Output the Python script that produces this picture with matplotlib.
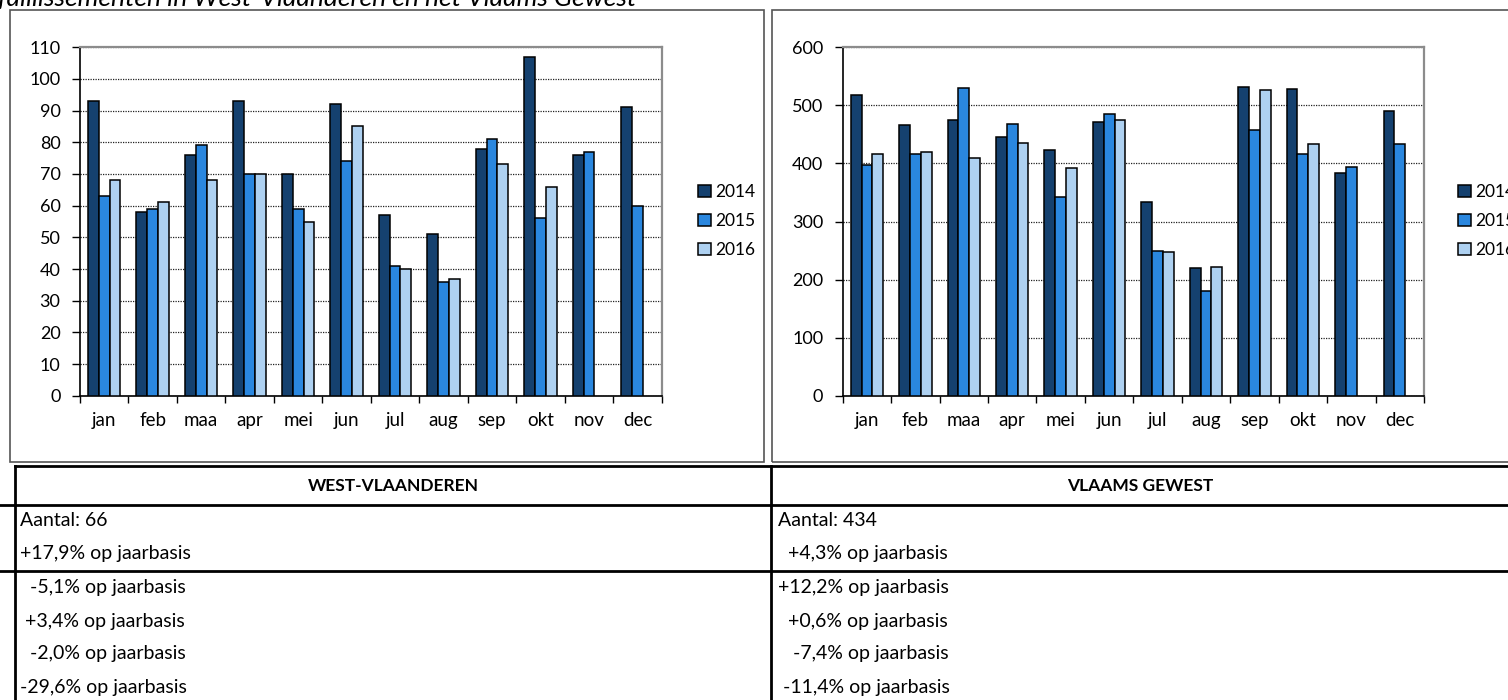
import numpy as np
import matplotlib
matplotlib.use("Agg")
from matplotlib import pyplot as plt
from matplotlib.lines import Line2D
from matplotlib.patches import Rectangle

plt.rcParams['font.family'] = ['Lato', 'DejaVu Sans']

months = ['jan', 'feb', 'maa', 'apr', 'mei', 'jun', 'jul', 'aug', 'sep', 'okt', 'nov', 'dec']
years = ['2014', '2015', '2016']

# West-Vlaanderen
wvl_2014 = [93, 58, 76, 93, 70, 92, 57, 51, 78, 107, 76, 91]
wvl_2015 = [63, 59, 79, 70, 59, 74, 41, 36, 81, 56, 77, 60]
wvl_2016 = [68, 61, 68, 70, 55, 85, 40, 37, 73, 66, np.nan, np.nan]

# Vlaams Gewest
vg_2014 = [518, 466, 475, 445, 423, 471, 334, 220, 531, 528, 384, 490]
vg_2015 = [398, 416, 530, 468, 342, 485, 249, 180, 458, 416, 393, 433]
vg_2016 = [416, 419, 410, 436, 392, 475, 248, 221, 526, 434, np.nan, np.nan]

colors = ['#15416f', '#2a87df', '#aed1f1']

title = 'faillissementen in West-Vlaanderen en het Vlaams Gewest'
table_heads = ['WEST-VLAANDEREN', 'VLAAMS GEWEST']
wvl_rows = ['Aantal: 66', '+17,9% op jaarbasis', '  -5,1% op jaarbasis',
            ' +3,4% op jaarbasis', '  -2,0% op jaarbasis', '-29,6% op jaarbasis']
vg_rows = ['Aantal: 434', '  +4,3% op jaarbasis', '+12,2% op jaarbasis',
           '  +0,6% op jaarbasis', '   -7,4% op jaarbasis', ' -11,4% op jaarbasis']

W, H = 1508, 700
fig = plt.figure(figsize=(W / 100, H / 100), dpi=100)


def fx(x):
    return x / W


def fy(y):
    return 1 - y / H


def hline(x0, x1, y, lw=2.0, color='black'):
    fig.add_artist(Line2D([fx(x0), fx(x1)], [fy(y), fy(y)], color=color, lw=lw))


def vline(x, y0, y1, lw=2.0, color='black'):
    fig.add_artist(Line2D([fx(x), fx(x)], [fy(y0), fy(y1)], color=color, lw=lw))


# title, cut off at the very top like in the source
fig.text(fx(-2), fy(6), title, fontsize=19, style='italic', ha='left', va='baseline')

# chart frames
fig.add_artist(Rectangle((fx(9.5), fy(461.7)), fx(764 - 9.5), (461.7 - 9.5) / H,
                         fill=False, edgecolor='#555555', lw=1.2))
fig.add_artist(Rectangle((fx(771.7), fy(461.7)), fx(760), (461.7 - 9.5) / H,
                         fill=False, edgecolor='#555555', lw=1.2))


def bar_chart(left_px, right_px, series, ymax, step, leg_x):
    ax = fig.add_axes([fx(left_px), fy(395.7), fx(right_px - left_px), (395.7 - 47.3) / H])
    x = np.arange(len(months))
    w = 0.223
    handles = []
    for i, vals in enumerate(series):
        b = ax.bar(x + (i - 1) * w, vals, width=w, color=colors[i], edgecolor='black',
                   linewidth=1.1, zorder=3, label=years[i])
        handles.append(b)
    ax.set_xlim(-0.5, len(months) - 0.5)
    ax.set_ylim(0, ymax)
    ax.set_yticks(np.arange(0, ymax + 1, step))
    ax.yaxis.grid(True, linestyle=(0, (1, 1)), color='#222222', lw=0.9, zorder=0)
    ax.set_xticks(np.arange(len(months) + 1) - 0.5)
    ax.set_xticklabels([])
    ax.set_xticks(x, minor=True)
    ax.set_xticklabels(months, minor=True)
    ax.tick_params(axis='x', which='major', direction='out', length=5, width=1)
    ax.tick_params(axis='x', which='minor', length=0, pad=12, labelsize=13.5)
    ax.tick_params(axis='y', direction='out', length=6, width=1, pad=8, labelsize=13)
    for s in ['top', 'right']:
        ax.spines[s].set_color('#8c8c8c')
        ax.spines[s].set_linewidth(1.6)
    for s in ['left', 'bottom']:
        ax.spines[s].set_color('black')
        ax.spines[s].set_linewidth(1.2)
    fig.legend(handles=handles, loc='center left',
               bbox_to_anchor=(fx(leg_x), fy(221)), frameon=False,
               fontsize=12.5, handlelength=0.75, handleheight=0.75,
               handletextpad=0.25, labelspacing=0.75, borderpad=0)
    return ax


bar_chart(80, 661.7, [wvl_2014, wvl_2015, wvl_2016], 110, 10, 689)
bar_chart(842.7, 1424, [vg_2014, vg_2015, vg_2016], 600, 100, 1449)

# table underneath
hline(15, W, 465.7)
hline(0, W, 504.5)
hline(0, W, 571)
vline(15, 465.7, H)
vline(771, 465.7, H)

fig.text(fx(393), fy(486), table_heads[0], fontsize=12.5, fontweight='bold',
         ha='center', va='center')
fig.text(fx(1140), fy(486), table_heads[1], fontsize=12.5, fontweight='bold',
         ha='center', va='center')
row_y = [521, 554, 588, 621, 654, 688]
for yy, a, b in zip(row_y, wvl_rows, vg_rows):
    fig.text(fx(20), fy(yy), a, fontsize=14, ha='left', va='center')
    fig.text(fx(778), fy(yy), b, fontsize=14, ha='left', va='center')

fig.savefig('out.png', dpi=100)
